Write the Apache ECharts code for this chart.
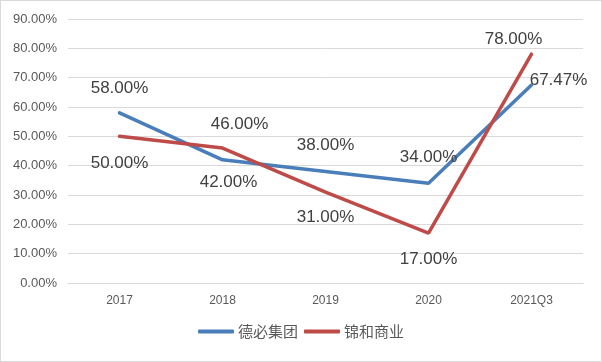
<!DOCTYPE html>
<html>
<head>
<meta charset="utf-8">
<script src="https://cdn.jsdelivr.net/npm/echarts@6/dist/echarts.min.js"></script>
<style>
html,body{margin:0;padding:0;background:#fff;}
#c{width:602px;height:362px;box-sizing:border-box;border:1px solid #d9d9d9;}
</style>
</head>
<body>
<div id="c"></div>
<script>
const categories = ['2017', '2018', '2019', '2020', '2021Q3'];
const seriesNames = ['德必集团', '锦和商业'];
const debiValues = [58.00, 42.00, 38.00, 34.00, 67.47];
const jinheValues = [50.00, 46.00, 31.00, 17.00, 78.00];
const yTicks = [0, 10, 20, 30, 40, 50, 60, 70, 80, 90];

// label placement (offsets from point, px)
const debiLabelOffsets = [[0, -25], [6, 23], [0, -26], [0, -26], [27, -5]];
const jinheLabelOffsets = [[0, 27], [17, -24], [0, 25], [0, 26], [-18, -15]];

function build(values, offsets) {
  return values.map((v, i) => ({
    value: v,
    label: { offset: offsets[i] }
  }));
}

const chart = echarts.init(document.getElementById('c'), null, {renderer: 'canvas'});
const labelBase = {
  show: true,
  position: 'inside',
  formatter: p => p.value.toFixed(2) + '%',
  fontSize: 17,
  color: '#404040',
  fontFamily: 'Liberation Sans, Arial, sans-serif'
};
chart.setOption({
  animation: false,
  grid: {left: 67, right: 18, top: 18, bottom: 78},
  legend: {
    bottom: 17,
    left: 'center',
    itemWidth: 36,
    itemHeight: 4,
    itemGap: 6,
    icon: 'roundRect',
    textStyle: {fontSize: 15, color: '#595959', fontFamily: 'Noto Sans CJK SC', padding: [0, 0, 0, -1]},
    data: seriesNames
  },
  xAxis: {
    type: 'category',
    data: categories,
    boundaryGap: true,
    axisLine: {lineStyle: {color: '#d9d9d9'}},
    axisTick: {show: false},
    axisLabel: {fontSize: 12, color: '#595959', margin: 12, fontFamily: 'Liberation Sans, Arial, sans-serif'}
  },
  yAxis: {
    type: 'value',
    min: yTicks[0],
    max: yTicks[yTicks.length - 1],
    interval: 10,
    axisLine: {show: false},
    axisTick: {show: false},
    splitLine: {lineStyle: {color: '#d9d9d9'}},
    axisLabel: {
      fontSize: 13, color: '#595959', margin: 11,
      fontFamily: 'Liberation Sans, Arial, sans-serif',
      formatter: v => v.toFixed(2) + '%'
    }
  },
  series: [
    {
      name: seriesNames[0], type: 'line', symbol: 'circle', symbolSize: 0.5, showSymbol: true,
      data: build(debiValues, debiLabelOffsets),
      lineStyle: {color: '#4a7ebb', width: 3.5, cap: 'round'},
      itemStyle: {color: '#4a7ebb'},
      label: labelBase
    },
    {
      name: seriesNames[1], type: 'line', symbol: 'circle', symbolSize: 0.5, showSymbol: true,
      data: build(jinheValues, jinheLabelOffsets),
      lineStyle: {color: '#be4b48', width: 3.5, cap: 'round'},
      itemStyle: {color: '#be4b48'},
      label: labelBase
    }
  ]
});
</script>
</body>
</html>
